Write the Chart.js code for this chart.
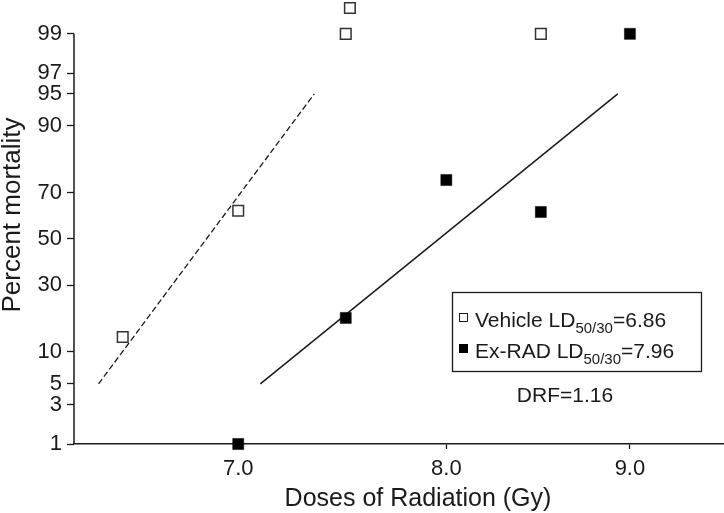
<!DOCTYPE html>
<html>
<head>
<meta charset="utf-8">
<script src="https://cdn.jsdelivr.net/npm/chart.js@4.4.1/dist/chart.umd.min.js"></script>
<style>
  body { margin: 0; background: #fff; overflow: hidden; }
  canvas { display: block; }
</style>
</head>
<body>
<canvas id="probitChart" width="724" height="513"></canvas>
<script>
// observed mortality (%) per dose (Gy)
const vehicleDose = [6.5, 7.0, 7.5, 7.52, 8.5];
const vehicleMortality = [13.3, 62.5, 99, 99.56, 99];
const exradDose = [7.0, 7.5, 8.0, 8.5, 9.0];
const exradMortality = [1, 18.5, 74.8, 62.0, 99];

// fitted probit lines (end points)
const vehicleFitDose = [6.40, 7.35];
const vehicleFitMortality = [5, 95];
const exradFitDose = [7.10, 8.93];
const exradFitMortality = [5, 95];

const xTickDoses = [7.0, 8.0, 9.0];
const yTickPercents = [1, 3, 5, 10, 30, 50, 70, 90, 95, 97, 99];

const legendMain = ["Vehicle LD", "Ex-RAD LD"];
const legendSub = ["50/30", "50/30"];
const legendTail = ["=6.86", "=7.96"];
const drfText = "DRF=1.16";

const FONT = '"Liberation Sans", Arial, Helvetica, sans-serif';
const INK = "#1a1a1a";

// inverse normal cdf (Acklam)
function probit(p) {
  const a = [-3.969683028665376e+01, 2.209460984245205e+02, -2.759285104469687e+02, 1.383577518672690e+02, -3.066479806614716e+01, 2.506628277459239e+00];
  const b = [-5.447609879822406e+01, 1.615858368580409e+02, -1.556989798598866e+02, 6.680131188771972e+01, -1.328068155288572e+01];
  const c = [-7.784894002430293e-03, -3.223964580411365e-01, -2.400758276161838e+00, -2.549732539343734e+00, 4.374664141464968e+00, 2.938163982698783e+00];
  const d = [7.784695709041462e-03, 3.224671290700398e-01, 2.445134137142996e+00, 3.754408661907416e+00];
  const pl = 0.02425;
  let q, r;
  if (p < pl) {
    q = Math.sqrt(-2 * Math.log(p));
    return (((((c[0] * q + c[1]) * q + c[2]) * q + c[3]) * q + c[4]) * q + c[5]) / ((((d[0] * q + d[1]) * q + d[2]) * q + d[3]) * q + 1);
  }
  if (p <= 1 - pl) {
    q = p - 0.5;
    r = q * q;
    return (((((a[0] * r + a[1]) * r + a[2]) * r + a[3]) * r + a[4]) * r + a[5]) * q / (((((b[0] * r + b[1]) * r + b[2]) * r + b[3]) * r + b[4]) * r + 1);
  }
  q = Math.sqrt(-2 * Math.log(1 - p));
  return -(((((c[0] * q + c[1]) * q + c[2]) * q + c[3]) * q + c[4]) * q + c[5]) / ((((d[0] * q + d[1]) * q + d[2]) * q + d[3]) * q + 1);
}

function toPoints(doses, percents) {
  return doses.map((x, i) => ({ x: x, y: probit(percents[i] / 100) }));
}

const yTickValues = yTickPercents.map((p) => probit(p / 100));

function drawSubLabel(ctx, x, y, main, sub, tail) {
  ctx.font = "21px " + FONT;
  ctx.fillText(main, x, y);
  x += ctx.measureText(main).width;
  ctx.font = "15px " + FONT;
  ctx.fillText(sub, x, y + 6);
  x += ctx.measureText(sub).width;
  ctx.font = "21px " + FONT;
  ctx.fillText(tail, x, y);
}

const decor = {
  id: "decor",
  afterDraw(chart) {
    const { ctx, chartArea } = chart;
    const yScale = chart.scales.y;
    ctx.save();

    // left axis line only from 1% to 99%
    ctx.strokeStyle = INK;
    ctx.lineWidth = 1.5;
    ctx.beginPath();
    ctx.moveTo(chartArea.left, yScale.getPixelForValue(probit(0.99)));
    ctx.lineTo(chartArea.left, chartArea.bottom);
    ctx.stroke();

    ctx.fillStyle = INK;
    // axis titles
    ctx.textAlign = "center";
    ctx.textBaseline = "alphabetic";
    ctx.font = "25px " + FONT;
    ctx.fillText("Doses of Radiation (Gy)", 418, 506);
    ctx.save();
    ctx.font = "26px " + FONT;
    ctx.translate(20, 215);
    ctx.rotate(-Math.PI / 2);
    ctx.fillText("Percent mortality", 0, 0);
    ctx.restore();

    // legend box
    ctx.lineWidth = 1.3;
    ctx.strokeRect(452.5, 292.5, 249, 79);
    ctx.textAlign = "left";
    const rows = [327, 358];
    rows.forEach((base, i) => {
      ctx.lineWidth = 1;
      if (i === 0) {
        ctx.fillStyle = "#fff";
        ctx.fillRect(459.5, base - 13.5, 8, 8);
        ctx.strokeRect(459.5, base - 13.5, 8, 8);
      } else {
        ctx.fillStyle = "#000";
        ctx.fillRect(459, base - 14, 9, 9);
      }
      ctx.fillStyle = INK;
      drawSubLabel(ctx, 475, base, legendMain[i], legendSub[i], legendTail[i]);
    });

    ctx.font = "21px " + FONT;
    ctx.textAlign = "center";
    ctx.fillText(drfText, 565, 402);
    ctx.restore();
  },
};

new Chart(document.getElementById("probitChart"), {
  type: "scatter",
  data: {
    datasets: [
      {
        label: "Vehicle",
        data: toPoints(vehicleDose, vehicleMortality),
        pointStyle: "rect",
        pointRadius: 7.5,
        backgroundColor: "#fff",
        borderColor: "#333",
        borderWidth: 1.5,
        clip: false,
        order: 1,
      },
      {
        label: "Ex-RAD",
        data: toPoints(exradDose, exradMortality),
        pointStyle: "rect",
        pointRadius: 7.8,
        backgroundColor: "#000",
        borderColor: "#000",
        borderWidth: 0.5,
        clip: false,
        order: 1,
      },
      {
        label: "Vehicle fit",
        data: toPoints(vehicleFitDose, vehicleFitMortality),
        showLine: true,
        pointRadius: 0,
        borderColor: INK,
        borderWidth: 1.3,
        borderDash: [6, 3],
        order: 2,
      },
      {
        label: "Ex-RAD fit",
        data: toPoints(exradFitDose, exradFitMortality),
        showLine: true,
        pointRadius: 0,
        borderColor: INK,
        borderWidth: 1.5,
        order: 2,
      },
    ],
  },
  options: {
    responsive: false,
    animation: false,
    events: [],
    layout: { padding: 0, autoPadding: false },
    plugins: {
      legend: { display: false },
      tooltip: { enabled: false },
    },
    scales: {
      x: {
        type: "logarithmic",
        min: 6.31,
        max: 9.56,
        afterBuildTicks(scale) {
          scale.ticks = xTickDoses.map((v) => ({ value: v }));
        },
        afterFit(scale) {
          scale.height = 69;
          scale.paddingLeft = 0;
          scale.paddingRight = 0;
        },
        grid: {
          drawOnChartArea: false,
          tickLength: 5,
          tickWidth: 1.3,
          tickColor: INK,
        },
        border: { display: true, color: INK, width: 1.5 },
        ticks: {
          color: INK,
          font: { family: FONT, size: 22 },
          padding: 7,
          maxRotation: 0,
          autoSkip: false,
          callback: (v) => Number(v).toFixed(1),
        },
      },
      y: {
        type: "linear",
        min: probit(0.01),
        max: 2.71,
        afterBuildTicks(scale) {
          scale.ticks = yTickValues.map((v) => ({ value: v }));
        },
        afterFit(scale) {
          scale.width = 74;
          scale.paddingTop = 0;
          scale.paddingBottom = 0;
        },
        grid: {
          drawOnChartArea: false,
          tickLength: 7,
          tickWidth: 1.3,
          tickColor: INK,
        },
        border: { display: false },
        ticks: {
          color: INK,
          font: { family: FONT, size: 22 },
          padding: 5,
          autoSkip: false,
          callback: (v, i) => String(yTickPercents[i]),
        },
      },
    },
  },
  plugins: [decor],
});
</script>
</body>
</html>
